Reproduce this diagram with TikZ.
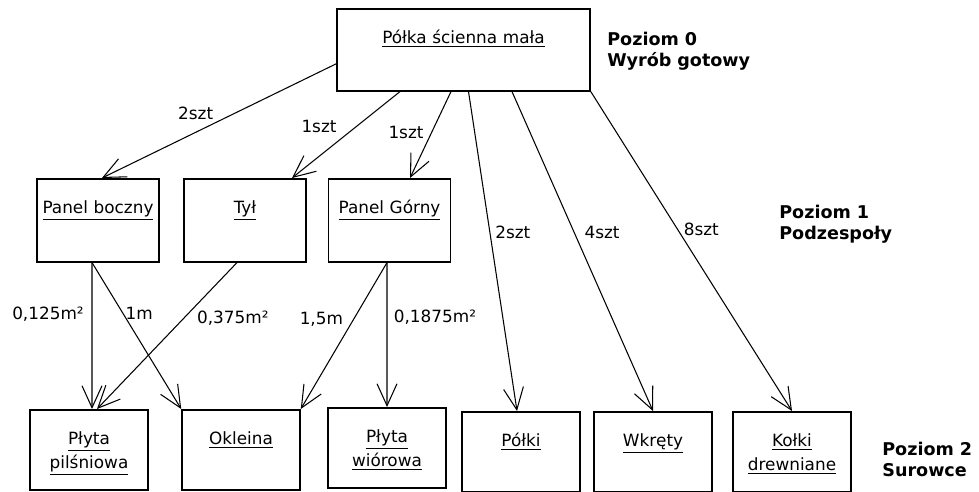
\documentclass[tikz,border=0pt]{standalone}
\usepackage{fontspec}
\setmainfont{DejaVu Sans}
\usetikzlibrary{arrows.meta,positioning,calc}

\newcommand{\boxfont}{\fontsize{9.6}{13.6}\selectfont}
\newcommand{\levelfont}{\fontsize{10}{12.5}\selectfont\bfseries}

\begin{document}
\begin{tikzpicture}[
  x=0.02cm,
  y=-0.02cm,
  >={Straight Barb[length=4.4mm,width=4mm]},
  flow/.style={->,line width=.6pt},
  item/.style={draw,line width=.9pt,inner sep=0pt,align=center,
    anchor=north,text height=7mm,font=\boxfont},
  product/.style={item,text width=50.6mm,text depth=9.4mm},
  part/.style={item,text width=24.4mm,text depth=9.6mm},
  material/.style={item,text width=23.6mm,text depth=9mm},
  qty/.style={font=\boxfont,inner sep=1pt},
  level/.style={font=\levelfont,align=left,text width=32mm,
    inner sep=0pt,anchor=base west}
]
\useasboundingbox (0,0) rectangle (979,491);

% poziom 0
\node[product] (shelf) at (463.5,8) {\underline{Półka ścienna mała}};
\node[level] (lvl0) at (607,45) {Poziom 0\\Wyrób gotowy};

% poziom 1
\node[part] (side) at (98,178) {\underline{Panel boczny}};
\node[part] (back) at (245,178) {\underline{Tył}};
\node[part] (upper) at (389.5,178) {\underline{Panel Górny}};
\node[level] (lvl1) at (779,218) {Poziom 1\\Podzespoły};

% poziom 2
\node[material] (fibre) at (89,409) {\underline{Płyta}\\\underline{pilśniowa}};
\node[material] (veneer) at (241,409) {\underline{Okleina}};
\node[material] (chip) at (387,407) {\underline{Płyta}\\\underline{wiórowa}};
\node[material] (shelves) at (521,411) {\underline{Półki}};
\node[material] (screws) at (653,411) {\underline{Wkręty}};
\node[material] (dowels) at (792,411) {\underline{Kołki}\\\underline{drewniane}};
\node[level] (lvl2) at (882,455) {Poziom 2\\Surowce};

\draw[flow] ([yshift=-2.8mm]shelf.west) --
  node[qty,pos=.5,xshift=-4.7mm,yshift=1.5mm]{2szt} ([xshift=.8mm]side.north);
\draw[flow] ([xshift=-12.7mm]shelf.south) --
  node[qty,pos=.5,xshift=-5.4mm,yshift=1.6mm]{1szt} ([xshift=9.4mm]back.north);
\draw[flow] ([xshift=-2.5mm]shelf.south) --
  node[qty,pos=.5,xshift=-4.9mm,yshift=.4mm]{1szt} ([xshift=4.1mm]upper.north);
\draw[flow] ([xshift=1mm]shelf.south) --
  node[qty,pos=.44,xshift=4.6mm]{2szt} ([xshift=-.8mm]shelves.north);
\draw[flow] ([xshift=9.7mm]shelf.south) --
  node[qty,pos=.44,xshift=5.6mm]{4szt} (screws.north);
\draw[flow] (shelf.south east) --
  node[qty,pos=.43,xshift=4.8mm]{8szt} (dowels.north);

\draw[flow] ([xshift=-1.2mm]side.south) --
  node[qty,pos=.35,xshift=-8.8mm]{0,125m²} ([xshift=.6mm]fibre.north);
\draw[flow] ([xshift=-1.2mm]side.south) --
  node[qty,pos=.35,xshift=3.2mm]{1m} (veneer.north west);
\draw[flow] ([xshift=-1.6mm]back.south) --
  node[qty,pos=.38,xshift=9.8mm]{0,375m²} ([xshift=1.6mm]fibre.north);
\draw[flow] ([xshift=-.5mm]upper.south) --
  node[qty,pos=.39,xshift=-6.4mm]{1,5m} (veneer.north east);
\draw[flow] ([xshift=-.5mm]upper.south) --
  node[qty,pos=.38,xshift=9.6mm]{0,1875m²} (chip.north);

\end{tikzpicture}
\end{document}
